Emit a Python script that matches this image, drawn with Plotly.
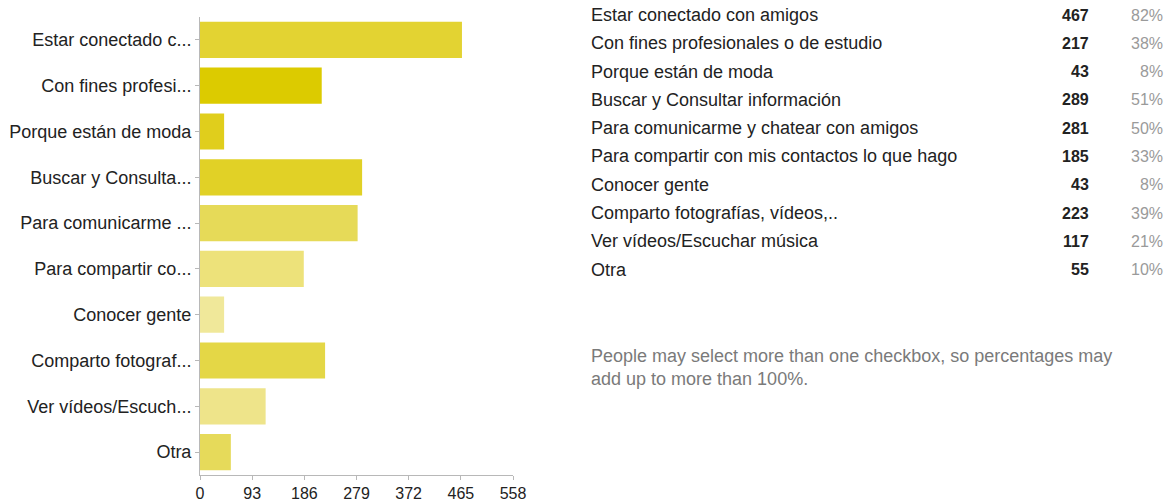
import plotly.graph_objects as go

categories = [
    "Estar conectado con amigos",
    "Con fines profesionales o de estudio",
    "Porque están de moda",
    "Buscar y Consultar información",
    "Para comunicarme y chatear con amigos",
    "Para compartir con mis contactos lo que hago",
    "Conocer gente",
    "Comparto fotografías, vídeos,..",
    "Ver vídeos/Escuchar música",
    "Otra",
]
axis_labels = [
    "Estar conectado c...",
    "Con fines profesi...",
    "Porque están de moda",
    "Buscar y Consulta...",
    "Para comunicarme ...",
    "Para compartir co...",
    "Conocer gente",
    "Comparto fotograf...",
    "Ver vídeos/Escuch...",
    "Otra",
]
counts = [467, 217, 43, 289, 281, 185, 43, 223, 117, 55]
percents = ["82%", "38%", "8%", "51%", "50%", "33%", "8%", "39%", "21%", "10%"]
x_ticks = [0, 93, 186, 279, 372, 465, 558]
bar_colors = ["#E3D332", "#DCCB00", "#E0CE1C", "#E1D126", "#E6DA58",
              "#EDE27A", "#F0E89A", "#E4D746", "#EEE48A", "#E6DA5A"]
footnote = "People may select more than one checkbox, so percentages may<br>add up to more than 100%."

W, H = 1172, 502
L, R_EDGE, T, B_EDGE = 200, 513, 17, 475
FONT = "Liberation Sans, Arial, sans-serif"

def px_x(px):
    return (px - L) / (R_EDGE - L)

def px_y(py):
    return (B_EDGE - py) / (B_EDGE - T)

fig = go.Figure(go.Bar(
    x=counts, y=categories, orientation="h",
    marker=dict(color=bar_colors, line=dict(width=0)),
))

annotations = []
for i, (c, n, p) in enumerate(zip(categories, counts, percents)):
    yy = px_y(15 + i * 28.3)
    annotations.append(dict(text=c, x=px_x(589), y=yy, xref="paper", yref="paper",
                            xanchor="left", yanchor="middle", showarrow=False,
                            font=dict(size=18, color="#222222", family=FONT)))
    annotations.append(dict(text="<b>%d</b>" % n, x=px_x(1091), y=yy, xref="paper", yref="paper",
                            xanchor="right", yanchor="middle", showarrow=False,
                            font=dict(size=16, color="#222222", family=FONT)))
    annotations.append(dict(text=p, x=px_x(1165), y=yy, xref="paper", yref="paper",
                            xanchor="right", yanchor="middle", showarrow=False,
                            font=dict(size=16, color="#9a9a9a", family=FONT)))
annotations.append(dict(text=footnote, x=px_x(589), y=px_y(367), xref="paper", yref="paper",
                        xanchor="left", yanchor="middle", align="left", showarrow=False,
                        font=dict(size=18, color="#7a7a7a", family=FONT)))

fig.update_layout(
    width=W, height=H, autosize=False,
    margin=dict(l=L, r=W - R_EDGE, t=T, b=H - B_EDGE, pad=0, autoexpand=False),
    paper_bgcolor="white", plot_bgcolor="white",
    showlegend=False, bargap=0.21,
    font=dict(family=FONT, size=16, color="#222222"),
    xaxis=dict(range=[0, 558], tickmode="array", tickvals=x_ticks,
               ticktext=[str(v) for v in x_ticks], showgrid=False, zeroline=False,
               showline=True, linecolor="#b8b8b8", linewidth=1, automargin=False,
               ticks="outside", ticklen=4, tickcolor="#b8b8b8",
               tickfont=dict(size=16, color="#222222", family=FONT), fixedrange=True),
    yaxis=dict(autorange="reversed", tickmode="array", tickvals=categories,
               ticktext=axis_labels, showgrid=False, zeroline=False,
               showline=True, linecolor="#b8b8b8", linewidth=1, automargin=False,
               ticks="outside", ticklen=4, tickcolor="#b8b8b8",
               tickfont=dict(size=18, color="#222222", family=FONT), fixedrange=True),
    annotations=annotations,
)

fig.write_html("out.html", config={"displayModeBar": False},
               post_script="document.body.style.margin='0';document.body.style.overflow='hidden';")
